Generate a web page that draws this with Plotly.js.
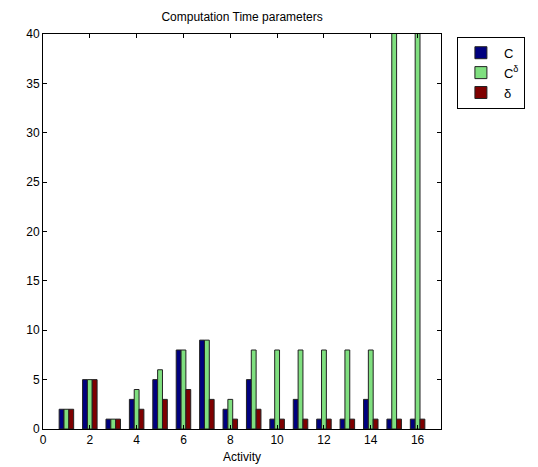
<!DOCTYPE html>
<html>
<head>
<meta charset="utf-8">
<script src="https://cdn.plot.ly/plotly-3.0.1.min.js"></script>
<style>html,body{margin:0;padding:0;background:#fff;}</style>
</head>
<body>
<div id="chart" style="width:538px;height:467px;"></div>
<script>
const activity = [1,2,3,4,5,6,7,8,9,10,11,12,13,14,15,16];
const seriesC = [2,5,1,3,5,8,9,2,5,1,3,1,1,3,1,1];
const seriesCdelta = [2,5,1,4,6,8,9,3,8,8,8,8,8,8,45,45];
const seriesDelta = [2,5,1,2,3,4,3,1,2,1,1,1,1,1,1,1];
const xTicks = [0,2,4,6,8,10,12,14,16];
const yTicks = [0,5,10,15,20,25,30,35,40];

const edge = {color:'#222', width:1};
const traces = [
  {type:'bar', x:activity, y:seriesC, name:'C', marker:{color:'#00007f', line:edge}},
  {type:'bar', x:activity, y:seriesCdelta, name:'C<sup>δ</sup>', marker:{color:'#7fdf7f', line:edge}},
  {type:'bar', x:activity, y:seriesDelta, name:'δ', marker:{color:'#7f0000', line:edge}}
];
const font = {family:'Liberation Sans, Arial, sans-serif', size:12, color:'#000'};
const layout = {
  width:538, height:467,
  margin:{l:43, r:97, t:34, b:38},
  paper_bgcolor:'#fff', plot_bgcolor:'#fff',
  font:font,
  barmode:'group', bargap:0.38, bargroupgap:0,
  title:{text:'Computation Time parameters', font:{family:font.family, size:12, color:'#000'}, x:0.45, xanchor:'center', y:0.963, yanchor:'middle'},
  xaxis:{range:[0,17], tickvals:xTicks, ticks:'inside', ticklen:4, tickcolor:'#000',
    showline:true, linecolor:'#000', linewidth:1, mirror:'ticks', showgrid:false, zeroline:false,
    title:{text:'Activity', font:font, standoff:6}, fixedrange:true},
  yaxis:{range:[0,40], tickvals:yTicks, ticks:'inside', ticklen:4, tickcolor:'#000',
    showline:true, linecolor:'#000', linewidth:1, mirror:'ticks', showgrid:false, zeroline:false, fixedrange:true},
  legend:{x:1.04, xanchor:'left', y:0.993, yanchor:'top', bordercolor:'#000', borderwidth:1, bgcolor:'#fff',
    font:{family:font.family, size:13, color:'#000'}, tracegroupgap:0, itemwidth:36},
  showlegend:true
};
Plotly.newPlot('chart', traces, layout, {displayModeBar:false, staticPlot:true});
</script>
</body>
</html>
